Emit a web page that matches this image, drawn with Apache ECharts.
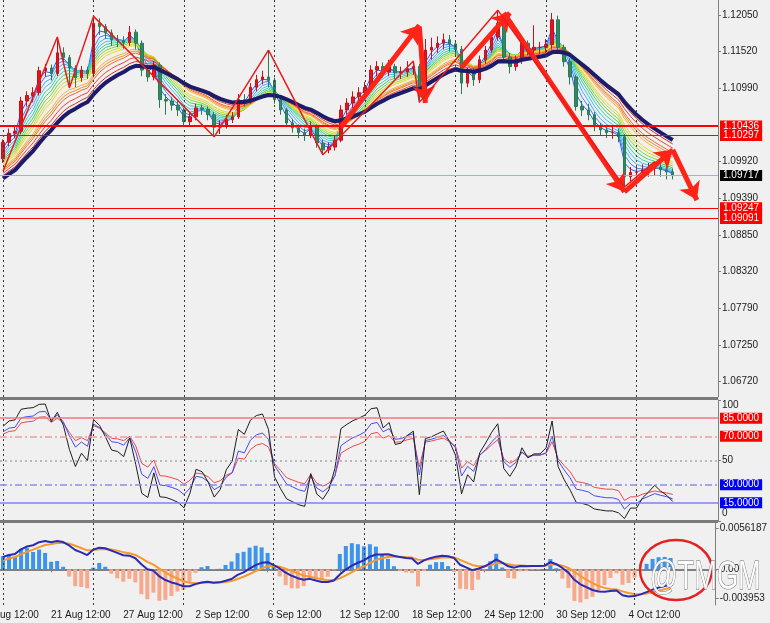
<!DOCTYPE html>
<html><head><meta charset="utf-8">
<script src="https://cdn.jsdelivr.net/npm/echarts@6/dist/echarts.min.js"></script>
<style>html,body{margin:0;padding:0;background:#f0f0f0}#c{width:770px;height:623px}</style>
</head><body><div id="c"></div>
<script>
// ---- data: [open, close, low, high] per bar ----
const ohlc = [
[1.0996,1.1020,1.0990,1.1024],[1.1020,1.1033,1.1014,1.1040],[1.1033,1.1036,1.1026,1.1045],[1.1036,1.1080,1.1032,1.1086],
[1.1080,1.1088,1.1072,1.1094],[1.1088,1.1092,1.1078,1.1100],[1.1092,1.1124,1.1088,1.1130],[1.1124,1.1128,1.1115,1.1134],
[1.1128,1.1120,1.1110,1.1133],[1.1120,1.1150,1.1116,1.1173],[1.1150,1.1143,1.1135,1.1158],[1.1143,1.1128,1.1103,1.1147],
[1.1128,1.1114,1.1100,1.1132],[1.1114,1.1125,1.1108,1.1131],[1.1125,1.1120,1.1112,1.1130],[1.1120,1.1193,1.1116,1.1203],
[1.1193,1.1188,1.1176,1.1200],[1.1188,1.1179,1.1170,1.1192],[1.1179,1.1169,1.1160,1.1184],[1.1169,1.1168,1.1158,1.1176],
[1.1168,1.1165,1.1156,1.1174],[1.1165,1.1180,1.1160,1.1189],[1.1180,1.1164,1.1155,1.1184],[1.1164,1.1125,1.1116,1.1168],
[1.1125,1.1115,1.1108,1.1130],[1.1115,1.1132,1.1110,1.1138],[1.1132,1.1082,1.1070,1.1136],[1.1082,1.1080,1.1060,1.1090],
[1.1080,1.1074,1.1066,1.1086],[1.1074,1.1067,1.1058,1.1080],[1.1067,1.1050,1.1044,1.1070],[1.1050,1.1057,1.1045,1.1064],
[1.1057,1.1070,1.1052,1.1076],[1.1070,1.1068,1.1060,1.1075],[1.1068,1.1060,1.1052,1.1072],[1.1060,1.1042,1.1028,1.1064],
[1.1042,1.1045,1.1032,1.1052],[1.1045,1.1053,1.1040,1.1060],[1.1053,1.1057,1.1048,1.1064],[1.1057,1.1082,1.1054,1.1090],
[1.1082,1.1080,1.1072,1.1090],[1.1080,1.1100,1.1076,1.1106],[1.1100,1.1111,1.1094,1.1118],[1.1111,1.1115,1.1104,1.1124],
[1.1115,1.1110,1.1100,1.1154],[1.1110,1.1082,1.1076,1.1114],[1.1082,1.1067,1.1060,1.1088],[1.1067,1.1048,1.1042,1.1070],
[1.1048,1.1041,1.1034,1.1054],[1.1041,1.1034,1.1026,1.1046],[1.1034,1.1030,1.1022,1.1040],[1.1030,1.1043,1.1026,1.1050],
[1.1043,1.1019,1.1012,1.1046],[1.1019,1.1009,1.1002,1.1024],[1.1009,1.1013,1.1004,1.1020],[1.1013,1.1023,1.1008,1.1030],
[1.1023,1.1067,1.1020,1.1074],[1.1067,1.1077,1.1060,1.1084],[1.1077,1.1086,1.1070,1.1094],[1.1086,1.1092,1.1078,1.1100],
[1.1092,1.1100,1.1085,1.1108],[1.1100,1.1125,1.1096,1.1132],[1.1125,1.1130,1.1116,1.1138],[1.1130,1.1122,1.1114,1.1136],
[1.1122,1.1130,1.1116,1.1140],[1.1130,1.1121,1.1112,1.1134],[1.1121,1.1122,1.1112,1.1130],[1.1122,1.1127,1.1115,1.1138],
[1.1127,1.1130,1.1118,1.1136],[1.1130,1.1086,1.1078,1.1134],[1.1086,1.1154,1.1082,1.1170],[1.1154,1.1158,1.1140,1.1172],
[1.1158,1.1164,1.1150,1.1174],[1.1164,1.1169,1.1155,1.1178],[1.1169,1.1163,1.1152,1.1176],[1.1163,1.1155,1.1146,1.1168],
[1.1155,1.1106,1.1090,1.1160],[1.1106,1.1122,1.1100,1.1128],[1.1122,1.1111,1.1102,1.1128],[1.1111,1.1140,1.1106,1.1146],
[1.1140,1.1154,1.1134,1.1160],[1.1154,1.1173,1.1150,1.1180],[1.1173,1.1193,1.1168,1.1212],[1.1193,1.1144,1.1136,1.1196],
[1.1144,1.1130,1.1120,1.1150],[1.1130,1.1140,1.1124,1.1146],[1.1140,1.1164,1.1134,1.1170],[1.1164,1.1154,1.1146,1.1168],
[1.1154,1.1158,1.1140,1.1190],[1.1158,1.1158,1.1148,1.1166],[1.1158,1.1162,1.1150,1.1170],[1.1162,1.1198,1.1156,1.1208],
[1.1198,1.1158,1.1150,1.1204],[1.1158,1.1137,1.1130,1.1162],[1.1137,1.1115,1.1104,1.1142],[1.1115,1.1072,1.1066,1.1118],
[1.1072,1.1067,1.1058,1.1080],[1.1067,1.1060,1.1052,1.1076],[1.1060,1.1043,1.1036,1.1064],[1.1043,1.1038,1.1030,1.1048],
[1.1038,1.1034,1.1026,1.1044],[1.1034,1.1034,1.1025,1.1042],[1.1034,1.1028,1.1020,1.1040],[1.1028,1.0970,1.0955,1.1032],
[1.0970,1.0976,1.0962,1.0984],[1.0976,1.0976,1.0964,1.0986],[1.0976,1.0980,1.0968,1.0988],[1.0980,1.0982,1.0970,1.0990],
[1.0982,1.0984,1.0972,1.0992],[1.0984,1.0980,1.0970,1.0990],[1.0980,1.0977,1.0966,1.0986],[1.0977,1.0972,1.0966,1.0982]
];
const totalSlots = 119;
const xTickLabels = ['21 Aug 12:00','27 Aug 12:00','2 Sep 12:00','6 Sep 12:00','12 Sep 12:00','18 Sep 12:00','24 Sep 12:00','30 Sep 12:00','4 Oct 12:00'];
const xTickIndex = [8,20,32,44,56,68,80,92,104];
const vGridIdx = [0,15,30,45,60,75,90,105];
const priceTicks = [1.1205,1.1152,1.1099,1.0992,1.0939,1.0885,1.0832,1.0779,1.0725,1.0672];
const priceLevels = [1.10436,1.10297,1.09247,1.09091];
const lastPrice = 1.09717;
const rsiLevels = [85,70,50,30,15];
const rsiTicks = [100,50,0];
const macdTicks = [0.0056187,0,-0.003953];
const macdTickText = ['0.0056187','0.00','-0.003953'];
// zigzag pivots [barIndex, price]
const zigzagPivots = [[0,1.0978],[9,1.1173],[11,1.1099],[15,1.1203],[35,1.1028],[44,1.1154],[53,1.1002],[68,1.1138],[69,1.1078],[82,1.1212],[103,1.0955],[108,1.0992]];
// hand drawn arrows [[from],[to]]
const arrowSegments = [
 [[56,1.1042],[69,1.1190]],
 [[69,1.1188],[70,1.1077]],
 [[76,1.1129],[84,1.1208]],
 [[83,1.1208],[103,1.0948]],
 [[103,1.0948],[111,1.1009]],
 [[111,1.1009],[115,1.0936]]
];
// indicator settings
const ribbonPeriods = [2,3,4,5,6,7,8,9,10,12,13,14,16,18];
const ribbonSeeds = [1.0994,1.0992,1.0990,1.0988,1.0986,1.0984,1.0982,1.0980,1.0978,1.0976,1.0974,1.0972,1.0969,1.0966];
const ribbonColors = ['#2a5cff','#3d84ff','#48aaf7','#3cc6e0','#3ad0a8','#46cf62','#82d63a','#c5dc2e','#eed52a','#f6b22c','#f58c30','#ef682f','#e6472f','#d42b2b'];
const navyPeriod = 20, navySeed = 1.0962;
const rsiPeriods = [4,7,10];
const rsiColors = ['#1e1e1e','#4a4af0','#f04848'];
const macdFast = 6, macdSlow = 13, macdSig = 5, histScale = 4;

const FONT = 'Liberation Sans';
const closes = ohlc.map(r => r[1]);
function ema(src, p, seed){ const a = 2/(p+1); let e = seed; return src.map(v => { e = e + a*(v-e); return e; }); }
function rsi(src, n, g0, l0, prev0){ let g=g0, l=l0, prev=prev0; return src.map(v => { const d=v-prev; prev=v; g=(g*(n-1)+Math.max(d,0))/n; l=(l*(n-1)+Math.max(-d,0))/n; return 100-100/(1+g/l); }); }

const cats = Array.from({length: totalSlots}, (_, i) => 'b' + i);
const labelAt = {}; xTickIndex.forEach((ix, k) => labelAt[ix] = xTickLabels[k]);

const fastE = ema(closes, macdFast, 1.0986), slowE = ema(closes, macdSlow, 1.0972);
const macd = fastE.map((v, i) => v - slowE[i]);
const signal = ema(macd, macdSig, 0.0010);
const hist = macd.map((v, i) => (v - signal[i]) * histScale);

const zz = closes.map(() => null); zigzagPivots.forEach(p => zz[p[0]] = p[1]);

function boxLabel(text, bg){ return {show:true, position:'end', formatter:text, color:'#fff', backgroundColor:bg, padding:[1,3,0,3], fontSize:10, fontFamily:FONT, distance:2, lineHeight:10}; }
function vLines(){ return vGridIdx.map(ix => ({xAxis: ix, lineStyle:{color:'#3a3a3a', type:[2,3], width:1}, label:{show:false}})); }

const series = [];
ribbonPeriods.forEach((p, k) => {
  const s = {type:'line', xAxisIndex:0, yAxisIndex:0, data: ema(closes, p, ribbonSeeds[k]), showSymbol:false, z:1,
    lineStyle:{color: ribbonColors[k], width:1}, silent:true, animation:false};
  if (k === 0) s.markLine = {silent:true, symbol:['none','none'], animation:false, data: vLines()};
  series.push(s);
});
series.push({type:'candlestick', xAxisIndex:0, yAxisIndex:0, data: ohlc, barWidth:3, z:3, animation:false,
  itemStyle:{color:'#e2141c', color0:'#2e8a60', borderColor:'#c8101a', borderColor0:'#2a7a56', borderWidth:1}});
series.push({type:'line', xAxisIndex:0, yAxisIndex:0, data: ema(closes, navyPeriod, navySeed), showSymbol:false, z:4,
  lineStyle:{color:'#1c1c6a', width:4}, silent:true, animation:false,
  markLine:{silent:true, symbol:['none','none'], precision:5, animation:false, data:[
    {yAxis: priceLevels[0], lineStyle:{color:'#ff0000', width:2, type:'solid'}, label: boxLabel('1.10436','#ff0000')},
    {yAxis: priceLevels[1], lineStyle:{color:'#ff0000', width:1, type:'solid'}, label: boxLabel('1.10297','#ff0000')},
    {yAxis: priceLevels[2], lineStyle:{color:'#ff0000', width:1, type:'solid'}, label: boxLabel('1.09247','#ff0000')},
    {yAxis: priceLevels[3], lineStyle:{color:'#ff0000', width:1, type:'solid'}, label: boxLabel('1.09091','#ff0000')},
    {yAxis: lastPrice, lineStyle:{color:'#9db0e8', width:1, type:'solid'}, label: boxLabel('1.09717','#000000')}
  ]}});
series.push({type:'line', xAxisIndex:0, yAxisIndex:0, data: zz, connectNulls:true, showSymbol:false, z:5,
  lineStyle:{color:'#e81c1c', width:1.5}, silent:true, animation:false,
  markLine:{silent:true, symbol:['none','arrow'], symbolSize:17, precision:5, animation:false,
    lineStyle:{color:'#ff2418', width:5, type:'solid'}, label:{show:false},
    data: arrowSegments.map(s => [{coord:s[0]}, {coord:s[1]}])}});

// RSI panel
rsiPeriods.forEach((p, k) => {
  const s = {type:'line', xAxisIndex:1, yAxisIndex:1, data: rsi(closes, p, 0.0010, 0.0005, ohlc[0][0]), showSymbol:false, z:3-k,
    lineStyle:{color: rsiColors[k], width:1}, silent:true, animation:false};
  if (k === 2) s.markLine = {silent:true, symbol:['none','none'], animation:false, data:[
    ...vLines(),
    {yAxis: rsiLevels[0], lineStyle:{color:'#f07a7a', width:1.5, type:'solid'}, label: boxLabel('85.0000','#ff0000')},
    {yAxis: rsiLevels[1], lineStyle:{color:'#f09a9a', width:1.5, type:[7,3,2,3]}, label: boxLabel('70.0000','#ff0000')},
    {yAxis: rsiLevels[2], lineStyle:{color:'#a8a8a8', width:1.5, type:[2,3]}, label:{show:false}},
    {yAxis: rsiLevels[3], lineStyle:{color:'#8c8cf0', width:1.5, type:[7,3,2,3]}, label: boxLabel('30.0000','#0000ff')},
    {yAxis: rsiLevels[4], lineStyle:{color:'#8080f0', width:1.5, type:'solid'}, label: boxLabel('15.0000','#0000ff')}
  ]};
  series.push(s);
});

// MACD panel
series.push({type:'bar', xAxisIndex:2, yAxisIndex:2, data: hist, barWidth:4, z:1, silent:true, animation:false,
  itemStyle:{color: p => p.value >= 0 ? '#3d94ea' : '#f7a98c'},
  markLine:{silent:true, symbol:['none','none'], animation:false, data: vLines()}});
series.push({type:'line', xAxisIndex:2, yAxisIndex:2, data: signal, showSymbol:false, z:3, lineStyle:{color:'#f59a2a', width:2}, silent:true, animation:false});
series.push({type:'line', xAxisIndex:2, yAxisIndex:2, data: macd, showSymbol:false, z:4, lineStyle:{color:'#2a2ab4', width:2}, silent:true, animation:false});

const axisTxt = {color:'#1a1a1a', fontSize:10, fontFamily:FONT};
function xAx(i, show){
  return {type:'category', gridIndex:i, data:cats, boundaryGap:true,
    axisLine:{show:show, lineStyle:{color:'#808080', width:2}},
    axisTick:{show:show, alignWithLabel:true, interval:(ix)=>labelAt[ix]!==undefined, length:3, lineStyle:{color:'#808080'}},
    axisLabel:{show:show, interval:(ix)=>labelAt[ix]!==undefined, formatter:(v, ix)=>labelAt[ix]||'', align:'left', margin:5, ...axisTxt},
    splitLine:{show:false}};
}
function yAx(i, min, max, ticks, fmt, rich){
  return {type:'value', gridIndex:i, position:'right', min:min, max:max, scale:true,
    axisLine:{show:true, lineStyle:{color:'#808080', width:1}},
    axisTick:{show:true, length:3, customValues:ticks, lineStyle:{color:'#808080'}},
    axisLabel:{show:true, customValues:ticks, formatter:fmt, margin:4, rich:rich, ...axisTxt},
    splitLine:{show:false}};
}

const chart = echarts.init(document.getElementById('c'), null, {renderer:'canvas'});
chart.setOption({
  backgroundColor:'#f0f0f0', animation:false,
  grid:[{left:0, right:52, top:0, height:397}, {left:0, right:52, top:400, height:121}, {left:0, right:52, top:523, height:82}],
  xAxis:[xAx(0,false), xAx(1,false), xAx(2,true)],
  yAxis:[
    yAx(0, 1.06498, 1.12268, priceTicks, v => v.toFixed(5)),
    yAx(1, 0, 100, rsiTicks, v => v === 100 ? '{a|100}' : (v === 0 ? '{b|0}' : String(v)),
      {a:{padding:[11,0,0,0], ...axisTxt}, b:{padding:[0,0,16,0], ...axisTxt}}),
    yAx(2, -0.004869, 0.006343, macdTicks, v => { const k = macdTicks.findIndex(t => Math.abs(t - v) < 1e-9); return k >= 0 ? macdTickText[k] : ''; })
  ],
  series: series,
  graphic:[
    {type:'rect', shape:{x:0, y:397, width:718, height:3}, style:{fill:'#7a7a7a'}, z:10},
    {type:'rect', shape:{x:0, y:520, width:718, height:3}, style:{fill:'#7a7a7a'}, z:10},
    {type:'text', x:0, y:610, style:{text:'ug 12:00', fontSize:10, fontFamily:FONT, fill:'#1a1a1a'}, z:10},
    {type:'ellipse', shape:{cx:676, cy:570, rx:36, ry:30}, style:{fill:'none', stroke:'#e52222', lineWidth:2.5}, z:20},
    {type:'text', x:650, y:558, scaleX:0.68, style:{text:'@TMGM', fontSize:40, fontFamily:FONT, fill:'rgba(255,255,255,0.92)', stroke:'#6e6e6e', lineWidth:1}, z:21}
  ]
});
</script></body></html>
